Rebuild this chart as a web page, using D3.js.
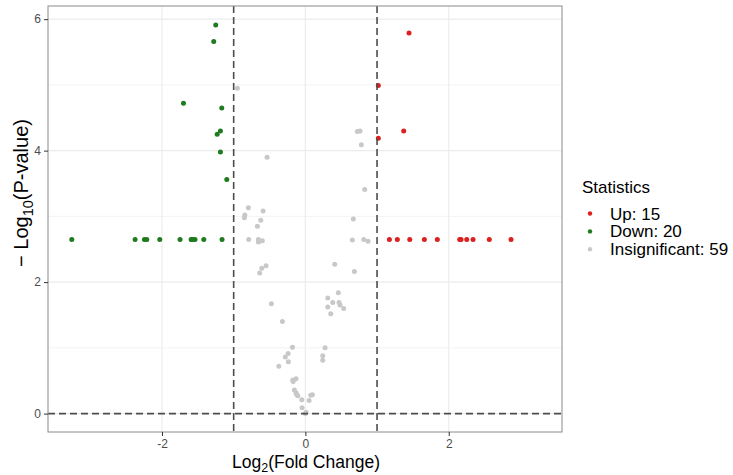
<!DOCTYPE html>
<html>
<head>
<meta charset="utf-8">
<script src="https://cdn.jsdelivr.net/npm/d3@7"></script>
<style>
  html, body { margin: 0; padding: 0; background: #ffffff; }
  svg { display: block; }
  text { font-family: "Liberation Sans", Arial, sans-serif; }
</style>
</head>
<body>
<script>
// ---------------- data ----------------
const upLog2FC = [1.446, 1.018, 1.372, 1.018, 1.172, 1.283, 1.456, 1.660, 1.841, 2.153, 2.172, 2.251, 2.339, 2.566, 2.869];
const upNegLogP = [5.79, 4.99, 4.30, 4.19, 2.65, 2.65, 2.65, 2.65, 2.65, 2.65, 2.65, 2.65, 2.65, 2.65, 2.65];

const downLog2FC = [-1.25, -1.278, -1.70, -1.166, -1.185, -1.23, -1.185, -1.096, -3.258, -2.375, -2.245, -2.212, -2.031, -1.748, -1.594, -1.571, -1.539, -1.417, -1.162, -1.58];
const downNegLogP = [5.91, 5.66, 4.72, 4.65, 4.30, 4.25, 3.98, 3.56, 2.65, 2.65, 2.65, 2.65, 2.65, 2.65, 2.65, 2.65, 2.65, 2.65, 2.65, 2.65];

const nsLog2FC = [-0.948, -0.534, -0.795, -0.59, -0.845, -0.85, -0.622, -0.669, -0.79, -0.655,
  -0.64, -0.60, -0.655, -0.637, -0.608, -0.548, -0.474, -0.32, -0.18, -0.24,
  -0.28, -0.237, -0.37, -0.176, -0.13, -0.153, -0.13, -0.106, -0.05, 0.052,
  0.075, 0.098, -0.046, 0.0, 0.275, 0.242, 0.242, 0.312, 0.46, 0.382,
  0.47, 0.312, 0.484, 0.535, 0.354, 0.41, 0.684, 0.655, 0.815, 0.874,
  0.669, 0.828, 0.781, 0.725, 0.763, -0.65, -0.17, -0.12, 0.01];
const nsNegLogP = [4.95, 3.90, 3.13, 3.08, 3.02, 2.98, 2.94, 2.85, 2.65, 2.65,
  2.62, 2.63, 2.61, 2.14, 2.21, 2.25, 1.67, 1.40, 1.01, 0.915,
  0.86, 0.79, 0.72, 0.51, 0.53, 0.36, 0.315, 0.27, 0.21, 0.20,
  0.28, 0.285, 0.087, 0.0, 1.00, 0.88, 0.81, 1.76, 1.84, 1.69,
  1.69, 1.62, 1.65, 1.60, 1.52, 2.27, 2.16, 2.64, 2.65, 2.62,
  2.96, 3.41, 4.09, 4.29, 4.30, 2.63, 0.49, 0.29, 0.02];

const xTicks = [-2, 0, 2];
const yTicks = [0, 2, 4, 6];
const yMinorTicks = [1, 3, 5];
const fcThreshold = [-1, 1];
const pThreshold = [0];

const groups = ["Up", "Down", "Insignificant"];
const groupColors = ["#DC2020", "#1E7B1E", "#C8C8C8"];
const legendTitle = "Statistics";

// ---------------- layout ----------------
const W = 733, H = 475;
const panel = { left: 48, right: 562, top: 6, bottom: 432 };

const svg = d3.select("body").append("svg").attr("width", W).attr("height", H);

const x = d3.scaleLinear().domain([-3.59, 3.58]).range([panel.left, panel.right]);
const y = d3.scaleLinear().domain([-0.28, 6.2]).range([panel.bottom, panel.top]);

// panel background
svg.append("rect")
  .attr("x", panel.left).attr("y", panel.top)
  .attr("width", panel.right - panel.left).attr("height", panel.bottom - panel.top)
  .attr("fill", "#ffffff");

// grid lines
const grid = svg.append("g");
grid.selectAll(".ymin").data(yMinorTicks).enter().append("line")
  .attr("x1", panel.left).attr("x2", panel.right)
  .attr("y1", d => y(d)).attr("y2", d => y(d))
  .attr("stroke", "#F0F0F0").attr("stroke-width", 0.8);
grid.selectAll(".ymaj").data(yTicks).enter().append("line")
  .attr("x1", panel.left).attr("x2", panel.right)
  .attr("y1", d => y(d)).attr("y2", d => y(d))
  .attr("stroke", "#EBEBEB").attr("stroke-width", 1.1);
grid.selectAll(".xmaj").data(xTicks).enter().append("line")
  .attr("y1", panel.top).attr("y2", panel.bottom)
  .attr("x1", d => x(d)).attr("x2", d => x(d))
  .attr("stroke", "#EBEBEB").attr("stroke-width", 1.1);

// points
const pts = [];
upLog2FC.forEach((v, i) => pts.push({ fc: v, p: upNegLogP[i], g: 0 }));
downLog2FC.forEach((v, i) => pts.push({ fc: v, p: downNegLogP[i], g: 1 }));
nsLog2FC.forEach((v, i) => pts.push({ fc: v, p: nsNegLogP[i], g: 2 }));

svg.append("g").selectAll("circle").data(pts).enter().append("circle")
  .attr("cx", d => x(d.fc)).attr("cy", d => y(d.p))
  .attr("r", 2.5)
  .attr("fill", d => groupColors[d.g]);

// threshold lines
const dash = svg.append("g");
dash.selectAll(".v").data(fcThreshold).enter().append("line")
  .attr("x1", d => x(d)).attr("x2", d => x(d))
  .attr("y1", panel.top).attr("y2", panel.bottom)
  .attr("stroke", "#4D4D4D").attr("stroke-width", 1.6).attr("stroke-dasharray", "7,4");
dash.selectAll(".h").data(pThreshold).enter().append("line")
  .attr("x1", panel.left).attr("x2", panel.right)
  .attr("y1", d => y(d)).attr("y2", d => y(d))
  .attr("stroke", "#4D4D4D").attr("stroke-width", 1.6).attr("stroke-dasharray", "7,4");

// panel border
svg.append("rect")
  .attr("x", panel.left).attr("y", panel.top)
  .attr("width", panel.right - panel.left).attr("height", panel.bottom - panel.top)
  .attr("fill", "none").attr("stroke", "#8A8A8A").attr("stroke-width", 1);

// axes
const xAxis = svg.append("g").attr("transform", `translate(0,${panel.bottom})`)
  .call(d3.axisBottom(x).tickValues(xTicks).tickSize(4).tickPadding(3).tickFormat(d3.format("d")));
const yAxis = svg.append("g").attr("transform", `translate(${panel.left},0)`)
  .call(d3.axisLeft(y).tickValues(yTicks).tickSize(4).tickPadding(3).tickFormat(d3.format("d")));
[xAxis, yAxis].forEach(a => {
  a.select(".domain").remove();
  a.selectAll(".tick line").attr("stroke", "#333333").attr("stroke-width", 1);
  a.selectAll(".tick text").attr("fill", "#4D4D4D")
    .style("font-family", "'Liberation Sans', Arial, sans-serif").style("font-size", "12px");
});
xAxis.selectAll(".tick text").text(d => d < 0 ? "-" + Math.abs(d) : d);

// axis titles
const xt = svg.append("text")
  .attr("x", (panel.left + panel.right) / 2 + 1).attr("y", 468)
  .attr("text-anchor", "middle").attr("fill", "#000").style("font-size", "17.5px");
xt.append("tspan").text("Log");
xt.append("tspan").attr("dy", 4).style("font-size", "12.5px").text("2");
xt.append("tspan").attr("dy", -4).text("(Fold Change)");

const yt = svg.append("text")
  .attr("transform", `translate(28,193) rotate(-90)`)
  .attr("text-anchor", "middle").attr("fill", "#000").style("font-size", "20px");
yt.append("tspan").text("\u2212 Log");
yt.append("tspan").attr("dy", 5).style("font-size", "14.5px").text("10");
yt.append("tspan").attr("dy", -5).text("(P-value)");

// legend
const lg = svg.append("g");
lg.append("text").attr("x", 582).attr("y", 193).attr("fill", "#000")
  .style("font-size", "17px").text(legendTitle);
const counts = [upLog2FC.length, downLog2FC.length, nsLog2FC.length];
const items = lg.selectAll(".item").data(groups).enter().append("g")
  .attr("transform", (d, i) => `translate(0,${213.5 + i * 17.9})`);
items.append("circle").attr("cx", 590).attr("cy", 0).attr("r", 2.2)
  .attr("fill", (d, i) => groupColors[i]);
items.append("text").attr("x", 610).attr("y", 6).attr("fill", "#000")
  .style("font-size", "17px").text((d, i) => `${d}: ${counts[i]}`);
</script>
</body>
</html>
